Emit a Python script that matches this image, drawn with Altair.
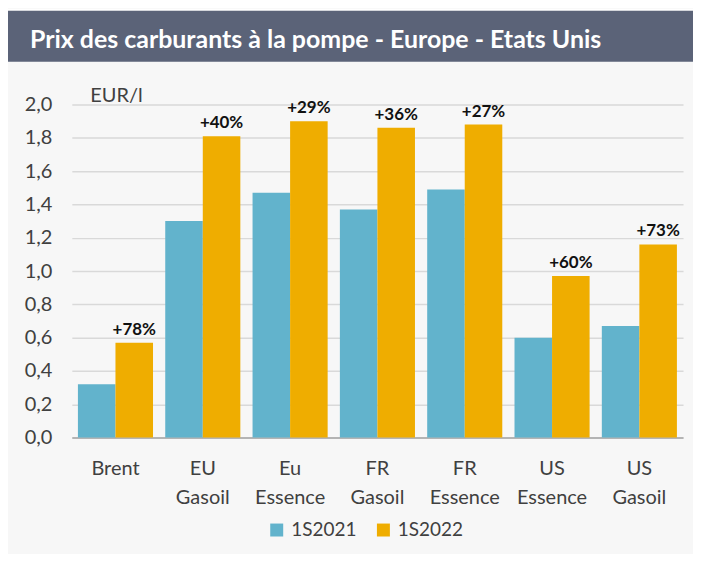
import altair as alt
import pandas as pd

TITLE = "Prix des carburants à la pompe - Europe - Etats Unis"
UNIT = "EUR/l"
categories = ["Brent", "EU Gasoil", "Eu Essence", "FR Gasoil", "FR Essence", "US Essence", "US Gasoil"]
series = ["1S2021", "1S2022"]
values_2021 = [0.32, 1.30, 1.47, 1.37, 1.49, 0.60, 0.67]
values_2022 = [0.57, 1.81, 1.90, 1.86, 1.88, 0.97, 1.16]
change_labels = ["+78%", "+40%", "+29%", "+36%", "+27%", "+60%", "+73%"]
y_ticks = [0.0, 0.2, 0.4, 0.6, 0.8, 1.0, 1.2, 1.4, 1.6, 1.8, 2.0]
colors = ["#62b3cc", "#efad00"]

FONT = "Lato"
TXT = "#404040"
W, H = 613, 334

rows = []
for c, v1, v2, lab in zip(categories, values_2021, values_2022, change_labels):
    rows.append({"cat": c, "series": series[0], "value": v1, "label": ""})
    rows.append({"cat": c, "series": series[1], "value": v2, "label": lab})
df = pd.DataFrame(rows)

base = alt.Chart(df)

x_enc = alt.X(
    "cat:N", sort=categories, title=None,
    scale=alt.Scale(paddingInner=0.14, paddingOuter=0.07),
    axis=alt.Axis(
        labelExpr="split(datum.label, ' ')", labelAngle=0, labelFontSize=20,
        labelFont=FONT, labelColor=TXT, labelLineHeight=29, labelPadding=21,
        ticks=False, domainColor="#a6a6a6", domainWidth=1.5, grid=False,
        labelOverlap=False,
    ),
)
y_enc = alt.Y(
    "value:Q", title=UNIT,
    scale=alt.Scale(domain=[0, 2], nice=False),
    axis=alt.Axis(
        values=y_ticks, tickCount=len(y_ticks),
        labelExpr="replace(format(datum.value, '.1f'), '.', ',')",
        labelFontSize=20, labelFont=FONT, labelColor=TXT, labelPadding=20,
        labelOverlap=False,
        ticks=False, domain=False, gridColor="#d9d9d9", gridWidth=1.5,
        titleAngle=0, titleAlign="left", titleBaseline="alphabetic",
        titleX=18, titleY=-3, titleFont=FONT, titleFontSize=20,
        titleFontWeight="normal", titleColor=TXT,
    ),
)

bars = base.mark_bar().encode(
    x=x_enc,
    xOffset=alt.XOffset("series:N", sort=series),
    y=y_enc,
    color=alt.Color(
        "series:N", scale=alt.Scale(domain=series, range=colors),
        legend=alt.Legend(
            title=None, orient="none", legendX=196, legendY=417,
            direction="horizontal", symbolType="square", symbolSize=169,
            symbolStrokeWidth=0, labelFontSize=19, labelFont=FONT,
            labelColor=TXT, columnPadding=17, labelOffset=5,
        ),
    ),
)

labels = base.mark_text(
    baseline="bottom", dy=-4, fontSize=17, fontWeight="bold", font=FONT, color="#111111"
).encode(
    x=alt.X("cat:N", sort=categories),
    xOffset=alt.XOffset("series:N", sort=series),
    y=alt.Y("value:Q"),
    text="label:N",
)

one = pd.DataFrame({"t": [TITLE]})
white_strip = alt.Chart(one).mark_rect(color="white").encode(
    x=alt.value(-64), x2=alt.value(W + 10), y=alt.value(-96), y2=alt.value(-94)
)
title_bar = alt.Chart(one).mark_rect(color="#5b6378").encode(
    x=alt.value(-64), x2=alt.value(W + 10), y=alt.value(-94), y2=alt.value(-43)
)
title_text = alt.Chart(one).mark_text(
    align="left", baseline="middle", color="white", fontSize=25,
    fontWeight="bold", font=FONT,
).encode(x=alt.value(-42), y=alt.value(-65), text="t:N")

chart = alt.layer(white_strip, title_bar, title_text, bars, labels).properties(
    width=W, height=H,
    autosize=alt.AutoSizeParams(type="none"),
    padding={"left": 64, "top": 96, "right": 10, "bottom": 116},
    background="#f7f7f7",
).configure_view(stroke=None)

chart.save("out.html", embed_options={"renderer": "svg", "actions": False})
